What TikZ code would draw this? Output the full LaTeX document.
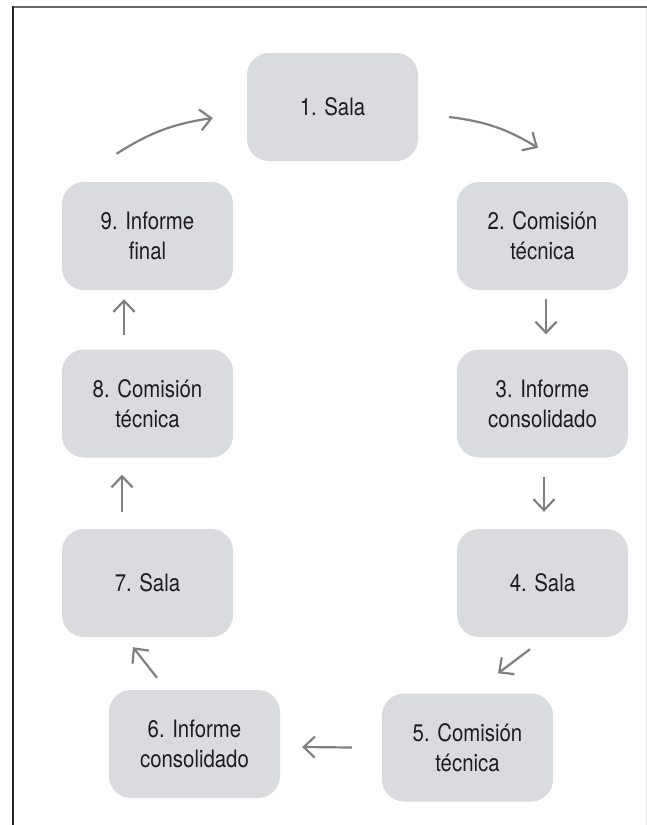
\documentclass[tikz,border=0pt]{standalone}
\usepackage{fontspec}
\setmainfont{TeX Gyre Heros}[FakeStretch=0.85]
\usetikzlibrary{arrows.meta,calc}

\definecolor{cajagris}{RGB}{218,219,222}
\definecolor{flechagris}{RGB}{128,128,130}
\definecolor{textonegro}{RGB}{30,28,30}

\begin{document}
\begin{tikzpicture}[x=1pt,y=-1pt]

\newcommand*{\colizq}{147.5}
\newcommand*{\colder}{542.5}

\useasboundingbox (0,0) rectangle (647,825);

%marco:
\draw[line width=2pt,black!60] (13,7)--(647,7);
\draw[line width=1.3pt,black!85] (13,6)--(13,825);
\draw[line width=0.8pt,black!12] (646,8)--(646,825);

\tikzstyle{caja} = [fill=cajagris, rounded corners=22pt, minimum width=171pt, minimum height=108pt,
  align=center, text=textonegro, font=\fontsize{24}{30}\selectfont];
\tikzstyle{flecha} = [line width=2.2pt, flechagris, -{Straight Barb[length=11pt,width=21pt]}];

%cajas:
\node[caja] (n1) at (332.5,107) {1. Sala};
\node[caja] (n2) at (\colder,236) {2. Comisión\\técnica};
\node[caja] (n3) at (\colder,403.5) {3. Informe\\consolidado};
\node[caja] (n4) at (\colder,583) {4. Sala};
\node[caja] (n5) at (467.5,747.5) {5. Comisión\\técnica};
\node[caja] (n6) at (194.5,744) {6. Informe\\consolidado};
\node[caja] (n7) at (\colizq,583) {7. Sala};
\node[caja] (n8) at (\colizq,403.5) {8. Comisión\\técnica};
\node[caja] (n9) at (\colizq,236) {9. Informe\\final};

%flechas:
\draw[flecha] ($(n1.east)+(31,10)$) to[bend left=12] ($(n2.north)+(-4.5,-34)$);
\draw[flecha] ($(n2.south)+(3.5,9)$) -- ($(n3.north)+(3.5,-15)$);
\draw[flecha] ($(n3.south)+(1.5,19)$) -- ($(n4.north)+(1.5,-17)$);
\draw[flecha] ($(n4.south)+(-12.5,12)$) -- ($(n5.north)+(30.5,-20)$);
\draw[flecha] ($(n5.west)+(-30,0)$) -- ($(n6.east)+(22,3)$);
\draw[flecha] ($(n6.north)+(-37.5,-12)$) -- ($(n7.south)+(-14.5,10)$);
\draw[flecha] ($(n7.north)+(-25.5,-17)$) -- ($(n8.south)+(-25.5,17)$);
\draw[flecha] ($(n8.north)+(-23.5,-14)$) -- ($(n9.south)+(-23.5,9)$);
\draw[flecha] ($(n9.north)+(-31,-28)$) to[bend left=12] ($(n1.west)+(-34,11)$);

\end{tikzpicture}
\end{document}
